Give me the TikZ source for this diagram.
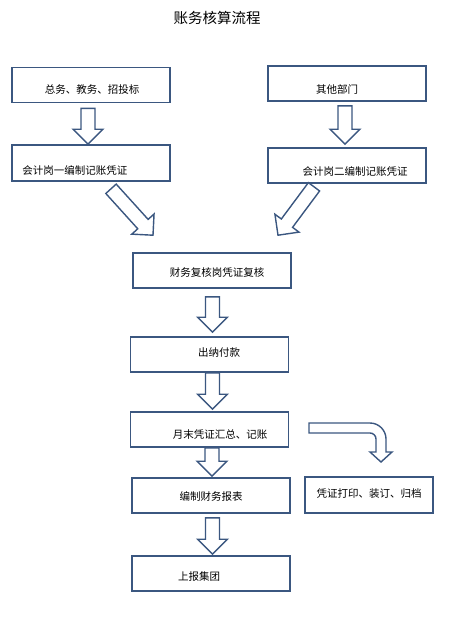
\documentclass[tikz,border=0pt]{standalone}
\usepackage{fontspec}
\newfontfamily\cjk{Noto Sans CJK SC}
\usetikzlibrary{calc}
\definecolor{boxblue}{RGB}{59,87,128}
\tikzset{
    box/.style={draw=boxblue, line width=1.6pt, minimum width=158, minimum height=35, inner sep=0pt},
    lbl/.style={font=\cjk\fontsize{10.5}{12}\selectfont, inner sep=0pt},
    blockarrow/.style={draw=boxblue, line width=1.4pt, fill=white},
}
% block arrow from tail to tip
\newcommand{\bigarrow}[2]{%
    \coordinate (ba-t) at (#1);
    \coordinate (ba-p) at (#2);
    \coordinate (ba-b) at ($(ba-p)!15pt!(ba-t)$);
    \draw[blockarrow] ($(ba-t)!7pt!90:(ba-p)$) -- ($(ba-b)!7pt!-90:(ba-t)$)
        -- ($(ba-b)!15pt!-90:(ba-t)$) -- (ba-p) -- ($(ba-b)!15pt!90:(ba-t)$)
        -- ($(ba-b)!7pt!90:(ba-t)$) -- ($(ba-t)!7pt!-90:(ba-p)$) -- cycle;
}
\begin{document}
\begin{tikzpicture}[x=1pt, y=-1pt]
    \useasboundingbox (0,0) rectangle (450,618);
    \node[font=\cjk\fontsize{14.5}{16}\selectfont] (title) at (217,18) {账务核算流程};

    % boxes
    \node[box] (zongwu) at (91,85) {};
    \node[box] (qita) at (347,83.5) {};
    \node[box, minimum height=36] (kuaiji1) at (91,163) {};
    \node[box] (kuaiji2) at (347,165.5) {};
    \node[box] (fuhe) at (212,270.5) {};
    \node[box] (chuna) at (209.5,354.5) {};
    \node[box] (huizong) at (209.5,429.5) {};
    \node[box] (baobiao) at (211,495.5) {};
    \node[box, minimum width=128, minimum height=36] (guidang) at (369,495) {};
    \node[box] (shangbao) at (211,573.5) {};

    % texts
    \node[lbl] (zongwu-t) at ($(zongwu)+(1,5)$) {总务、教务、招投标};
    \node[lbl] (qita-t) at ($(qita)+(-10,5.5)$) {其他部门};
    \node[lbl, anchor=west] (kuaiji1-t) at ($(kuaiji1.west)+(11,8)$) {会计岗一编制记账凭证};
    \node[lbl] (kuaiji2-t) at ($(kuaiji2)+(8,6.5)$) {会计岗二编制记账凭证};
    \node[lbl] (fuhe-t) at ($(fuhe)+(5,1.5)$) {财务复核岗凭证复核};
    \node[lbl] (chuna-t) at ($(chuna)+(9.5,-1.5)$) {出纳付款};
    \node[lbl] (huizong-t) at ($(huizong)+(10.5,5.5)$) {月末凭证汇总、记账};
    \node[lbl] (baobiao-t) at ($(baobiao)+(0,0.5)$) {编制财务报表};
    \node[lbl] (guidang-t) at ($(guidang)+(0,-1)$) {凭证打印、装订、归档};
    \node[lbl] (shangbao-t) at ($(shangbao)+(-12,2.5)$) {上报集团};

    % arrows
    \bigarrow{$(zongwu.south)+(-3,5)$}{$(kuaiji1.north)+(-3,0)$}
    \bigarrow{$(qita.south)+(-2,4)$}{$(kuaiji2.north)+(-2,-3)$}
    \bigarrow{$(kuaiji1.south)+(20,7)$}{$(fuhe.north)+(-59,-17)$}
    \bigarrow{$(kuaiji2.south)+(-33,3)$}{$(fuhe.north)+(66,-17)$}
    \bigarrow{$(fuhe.south)+(0.5,8)$}{$(chuna.north)+(3,-4)$}
    \bigarrow{$(chuna.south)+(3,0)$}{$(huizong.north)+(3,-2)$}
    \bigarrow{$(huizong.south)+(2.5,0)$}{$(baobiao.north)+(1,-1)$}
    \bigarrow{$(baobiao.south)+(1.5,4)$}{$(shangbao.north)+(1.5,-1)$}

    % bent arrow to archive box
    \draw[blockarrow] (309,423) -- (370,423) .. controls (378.8,423) and (386,430.2) .. (386,439)
        -- (386,452) -- (392,452) -- (381,462) -- (370,452) -- (376,452) -- (376,439)
        .. controls (376,435.7) and (373.3,433) .. (370,433) -- (309,433) -- cycle;
\end{tikzpicture}
\end{document}
